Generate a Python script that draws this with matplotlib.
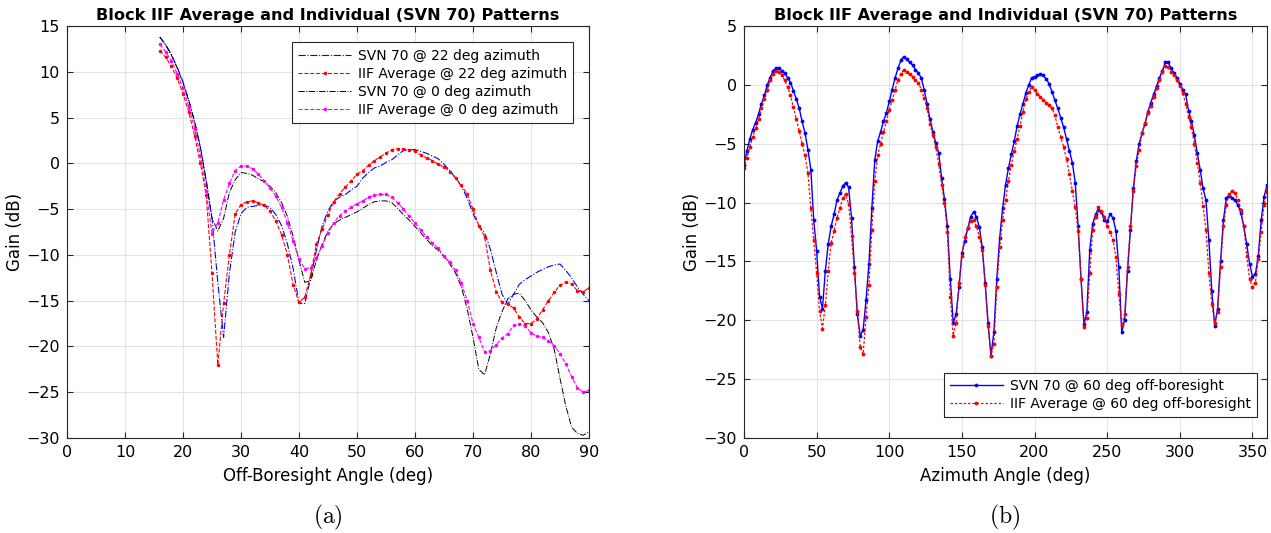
import numpy as np
import matplotlib
matplotlib.use("Agg")
import matplotlib.pyplot as plt

plt.rcParams['font.family'] = ['DejaVu Sans']
plt.rcParams['mathtext.fontset'] = 'cm'

# off-boresight cuts (deg) at fixed azimuth
off_angle = list(range(16, 91))

svn70_az22 = [13.8, 13.0, 11.9, 10.5, 8.9, 6.9, 4.6, 1.8, -1.8, -6.0,
              -13.0, -19.0, -12.0, -7.5, -5.5, -4.8, -4.7, -4.6, -4.6, -4.8,
              -5.6, -6.8, -8.8, -11.5, -15.3, -15.3, -12.5, -9.5, -6.8, -5.2,
              -4.1, -3.7, -3.4, -2.9, -2.5, -1.6, -1.0, -0.5, -0.3, 0.1,
              0.4, 0.9, 1.4, 1.5, 1.5, 1.3, 1.1, 0.8, 0.5, -0.1,
              -0.8, -1.6, -2.5, -3.8, -5.5, -6.8, -7.6, -9.4, -11.9, -14.3,
              -15.4, -14.3, -13.2, -12.7, -12.3, -11.9, -11.6, -11.3, -11.1, -11.0,
              -11.7, -12.5, -13.5, -14.3, -15.0]

iif_az22 = [12.3, 11.6, 10.6, 9.3, 7.6, 5.6, 3.0, 0.0, -3.5, -12.0,
            -22.0, -15.3, -10.0, -5.5, -4.5, -4.2, -4.1, -4.3, -4.6, -5.2,
            -6.3, -7.8, -10.0, -13.3, -15.2, -14.6, -12.2, -8.8, -7.2, -5.6,
            -4.2, -3.3, -2.6, -1.9, -1.2, -0.8, -0.2, 0.3, 0.7, 1.1,
            1.5, 1.6, 1.6, 1.5, 1.3, 0.9, 0.6, 0.3, -0.1, -0.4,
            -0.9, -1.6, -2.4, -3.4, -5.0, -6.8, -8.0, -11.7, -14.0, -15.2,
            -15.4, -15.8, -16.8, -17.5, -17.5, -17.0, -16.0, -15.0, -14.1, -13.3,
            -13.0, -13.2, -13.9, -14.0, -13.6]

svn70_az0 = [13.8, 12.9, 11.8, 10.4, 8.8, 6.8, 4.5, 1.7, -2.0, -6.0,
             -7.4, -6.0, -3.2, -1.8, -1.0, -1.1, -1.3, -1.7, -2.0, -2.5,
             -3.2, -4.3, -5.8, -8.0, -10.6, -13.0, -12.8, -10.6, -8.8, -7.4,
             -6.6, -6.2, -5.9, -5.6, -5.3, -4.9, -4.5, -4.2, -4.1, -4.1,
             -4.3, -4.9, -5.6, -6.2, -6.9, -7.6, -8.3, -9.0, -9.5, -10.2,
             -11.0, -12.0, -13.5, -15.9, -19.0, -22.5, -23.1, -20.8, -18.0, -16.2,
             -14.8, -14.3, -14.2, -15.0, -16.0, -16.8, -17.4, -18.5, -20.3, -23.5,
             -26.5, -28.8, -29.5, -29.7, -29.3]

iif_az0 = [13.0, 12.2, 11.2, 9.8, 8.2, 6.2, 3.8, 0.8, -3.0, -7.7,
           -6.5, -4.0, -2.2, -0.8, -0.3, -0.3, -0.6, -1.2, -1.9, -2.7,
           -3.6, -4.8, -6.5, -8.5, -10.5, -11.5, -11.4, -10.3, -9.0, -7.6,
           -6.5, -5.7, -5.2, -4.8, -4.4, -4.1, -3.7, -3.5, -3.4, -3.4,
           -3.7, -4.3, -5.0, -5.8, -6.5, -7.3, -8.0, -8.7, -9.3, -10.1,
           -10.8, -11.7, -13.1, -15.0, -17.5, -19.0, -20.6, -20.5, -19.8, -19.1,
           -18.6, -17.7, -17.5, -17.8, -18.5, -18.9, -19.0, -19.4, -19.9, -20.8,
           -21.9, -23.3, -24.5, -25.0, -24.8]

# azimuth cut (deg) at 60 deg off-boresight
azimuth = list(range(0, 361, 2))

svn70_ob60 = [-6.8, -5.6, -4.6, -3.8, -3.2, -2.5, -1.6, -0.9, 0.0, 0.6,
              1.2, 1.4, 1.4, 1.2, 1.0, 0.6, 0.2, -0.5, -1.2, -2.0,
              -3.1, -4.1, -5.5, -7.2, -11.5, -14.1, -18.0, -19.0, -15.8, -13.5,
              -12.0, -11.0, -9.8, -9.2, -8.6, -8.3, -8.7, -11.3, -15.5, -19.5,
              -21.3, -20.8, -18.3, -15.2, -10.5, -6.4, -4.8, -4.0, -3.1, -2.4,
              -1.4, -0.4, 0.6, 1.4, 2.1, 2.4, 2.2, 1.9, 1.7, 1.3,
              1.0, 0.6, -0.4, -1.6, -2.9, -4.0, -4.9, -5.8, -7.9, -9.7,
              -12.0, -16.5, -20.2, -19.5, -17.2, -14.3, -13.3, -12.2, -11.2, -10.8,
              -11.2, -12.1, -13.8, -16.8, -20.2, -23.0, -21.0, -16.5, -13.0, -10.5,
              -8.5, -7.1, -5.9, -4.8, -3.5, -2.5, -1.6, -0.7, 0.0, 0.6,
              0.7, 0.8, 0.9, 0.8, 0.5, 0.1, -0.6, -1.3, -2.0, -2.8,
              -3.6, -4.6, -5.6, -6.6, -8.3, -12.0, -16.5, -20.3, -19.3, -14.0,
              -11.8, -11.0, -10.6, -10.8, -11.5, -11.6, -11.0, -11.3, -12.4, -15.5,
              -21.0, -20.0, -15.8, -12.3, -8.8, -6.5, -5.0, -4.1, -3.3, -2.3,
              -1.5, -0.8, -0.1, 0.6, 1.2, 1.9, 1.9, 1.4, 1.0, 0.6,
              0.1, -0.4, -0.8, -2.2, -3.1, -4.3, -5.8, -7.2, -8.8, -9.8,
              -13.2, -17.5, -20.5, -19.0, -15.0, -11.5, -9.6, -9.4, -9.6, -9.8,
              -10.2, -10.9, -12.0, -13.5, -15.2, -16.3, -16.1, -14.5, -11.5, -9.5,
              -8.5]

iif_ob60 = [-7.1, -6.2, -5.3, -4.4, -3.7, -2.9, -2.0, -1.2, -0.4, 0.4,
            0.9, 1.2, 1.1, 0.8, 0.4, -0.2, -0.9, -1.9, -2.9, -3.9,
            -5.0, -6.0, -7.5, -10.5, -13.2, -16.0, -19.2, -20.7, -18.7, -15.8,
            -13.4, -12.4, -11.3, -10.5, -9.6, -9.3, -10.1, -12.8, -16.0, -19.2,
            -22.3, -22.9, -19.7, -17.0, -12.3, -8.2, -6.0, -5.0, -4.0, -3.1,
            -2.1, -1.3, -0.4, 0.4, 0.9, 1.3, 1.1, 0.9, 0.7, 0.4,
            0.2, -0.4, -1.1, -2.0, -3.3, -4.3, -5.3, -6.7, -8.5, -10.0,
            -12.5, -18.0, -21.3, -20.2, -16.8, -14.5, -12.9, -12.2, -11.6, -11.5,
            -12.0, -12.9, -14.0, -17.0, -20.5, -23.0, -22.0, -17.2, -13.8, -11.5,
            -9.8, -8.2, -6.8, -5.6, -4.6, -3.5, -2.3, -1.2, -0.6, -0.2,
            -0.4, -0.8, -1.0, -1.3, -1.5, -1.7, -2.0, -2.6, -3.6, -4.4,
            -5.3, -6.3, -7.6, -9.0, -10.4, -12.4, -16.5, -20.6, -19.8, -16.0,
            -12.3, -11.2, -10.4, -10.7, -11.2, -12.0, -12.5, -13.2, -14.6, -17.8,
            -20.4, -19.5, -15.5, -12.0, -9.0, -6.9, -5.5, -4.1, -3.2, -2.4,
            -1.8, -1.0, -0.3, 0.4, 1.1, 1.6, 1.5, 1.1, 0.8, 0.4,
            -0.1, -0.7, -1.6, -2.7, -3.6, -5.0, -6.6, -8.3, -10.3, -12.3,
            -16.0, -18.6, -20.2, -19.3, -15.5, -12.0, -10.2, -9.3, -9.0, -9.2,
            -9.8, -10.6, -12.0, -14.5, -16.5, -17.2, -16.8, -14.8, -12.5, -10.2,
            -9.0]

title = 'Block IIF Average and Individual (SVN 70) Patterns'


def style_axes(ax):
    ax.grid(True, color='#e3e3e3', linewidth=0.8)
    ax.set_axisbelow(True)
    ax.tick_params(direction='in', top=True, right=True, labelsize=11.5,
                   color='#262626', length=4, pad=5)
    for s in ax.spines.values():
        s.set_color('#262626')
        s.set_linewidth(0.8)
    ax.set_title(title, fontsize=11.6, fontweight='bold', pad=4)
    ax.set_ylabel('Gain (dB)', fontsize=12, labelpad=2)


def add_legend(ax, loc, anchor):
    leg = ax.legend(loc=loc, bbox_to_anchor=anchor, fontsize=10,
                    fancybox=False, edgecolor='#262626', framealpha=1,
                    borderaxespad=0, handlelength=3.8, labelspacing=0.3,
                    borderpad=0.45, handletextpad=0.5)
    leg.get_frame().set_linewidth(0.8)


fig = plt.figure(figsize=(12.71, 5.33), dpi=100)

ax1 = fig.add_axes([67 / 1271, 95 / 533, 522 / 1271, 412 / 533])
ax1.plot(off_angle, svn70_az22, '-.', color='blue', lw=0.8,
         label='SVN 70 @ 22 deg azimuth')
ax1.plot(off_angle, iif_az22, '--', color='red', lw=0.8, marker='.', ms=3,
         label='IIF Average @ 22 deg azimuth')
ax1.plot(off_angle, svn70_az0, '-.', color='black', lw=0.7,
         label='SVN 70 @ 0 deg azimuth')
ax1.plot(off_angle, iif_az0, '--', color='magenta', lw=0.8, marker='.', ms=3,
         label='IIF Average @ 0 deg azimuth')
ax1.set_xlim(0, 90)
ax1.set_ylim(-30, 15)
ax1.set_xticks(range(0, 91, 10))
ax1.set_yticks(range(-30, 16, 5))
ax1.set_xlabel('Off-Boresight Angle (deg)', fontsize=12, labelpad=5)
style_axes(ax1)
add_legend(ax1, 'upper right', (0.97, 0.96))

ax2 = fig.add_axes([744 / 1271, 95 / 533, 523 / 1271, 412 / 533])
ax2.plot(azimuth, svn70_ob60, '-', color='blue', lw=1.0, marker='.', ms=3.5,
         label='SVN 70 @ 60 deg off-boresight')
ax2.plot(azimuth, iif_ob60, linestyle=(0, (2, 1.5)), color='red', lw=0.9,
         marker='.', ms=3.5, label='IIF Average @ 60 deg off-boresight')
ax2.set_xlim(0, 360)
ax2.set_ylim(-30, 5)
ax2.set_xticks(range(0, 351, 50))
ax2.set_yticks(range(-30, 6, 5))
ax2.set_xlabel('Azimuth Angle (deg)', fontsize=12, labelpad=5)
style_axes(ax2)
add_legend(ax2, 'lower right', (0.981, 0.05))

fig.text(328 / 1271, 1 - 517 / 533, r'$\mathrm{(a)}$', ha='center', va='center', fontsize=17)
fig.text(1005 / 1271, 1 - 517 / 533, r'$\mathrm{(b)}$', ha='center', va='center', fontsize=17)

fig.savefig('out.png', dpi=100)
